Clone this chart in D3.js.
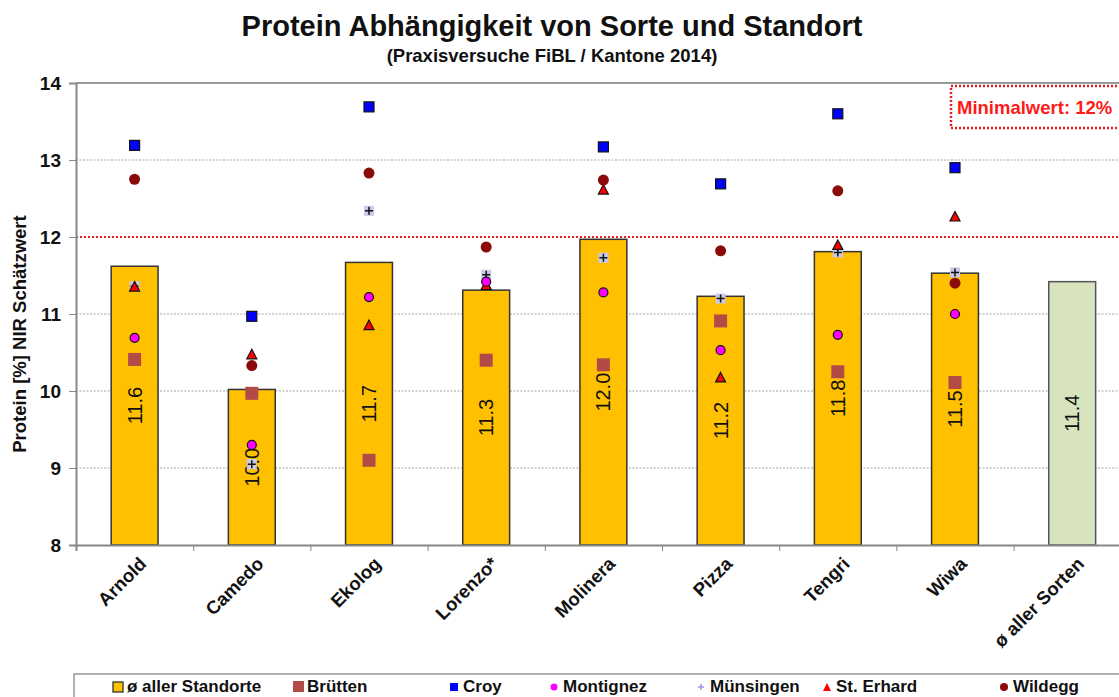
<!DOCTYPE html>
<html>
<head>
<meta charset="utf-8">
<script src="https://cdn.jsdelivr.net/npm/d3@7"></script>
<style>
body { margin: 0; background: #fff; }
text { font-family: "Liberation Sans", Arial, sans-serif; }
</style>
</head>
<body>
<script>
// data
var sorten = ["Arnold", "Camedo", "Ekolog", "Lorenzo*", "Molinera", "Pizza", "Tengri", "Wiwa", "ø aller Sorten"];
var mittel = [11.62, 10.02, 11.67, 11.31, 11.97, 11.23, 11.81, 11.53, 11.42];
var labels = ["11.6", "10.0", "11.7", "11.3", "12.0", "11.2", "11.8", "11.5", "11.4"];
var bruetten  = [10.41, 9.97, 9.10, 10.40, 10.34, 10.91, 10.25, 10.11];
var croy      = [13.19, 10.97, 13.69, null, 13.17, 12.69, 13.60, 12.90];
var montignez = [10.69, 9.30, 11.22, 11.42, 11.28, 10.53, 10.73, 11.00];
var muensingen = [11.36, 9.05, 12.34, 11.51, 11.73, 11.20, 11.80, 11.54];
var erhard    = [11.35, 10.47, 10.85, 11.37, 12.61, 10.17, 11.89, 12.26];
var wildegg   = [12.75, 10.33, 12.83, 11.87, 12.74, 11.82, 12.60, 11.40];
var yTicks = [8, 9, 10, 11, 12, 13, 14];
var minimalwert = 12;

var w = 1119, h = 697;
var x0 = 76, bandW = 117.2;

var svg = d3.select("body")
		.append("svg")
		.attr("width", w)
		.attr("height", h);

var x = d3.scaleBand()
		.domain(sorten)
		.range([x0, x0 + bandW * sorten.length])
		.paddingInner(0.6)
		.paddingOuter(0.3);
var xc = function(i) { return x(sorten[i]) + x.bandwidth() / 2; };

var y = d3.scaleLinear()
		.domain([8, 14])
		.range([545, 83]);

// titles
svg.append("text")
	.attr("x", 552).attr("y", 36)
	.attr("text-anchor", "middle")
	.attr("font-size", 29).attr("font-weight", "bold")
	.attr("fill", "#111")
	.text("Protein Abhängigkeit von Sorte und Standort");
svg.append("text")
	.attr("x", 552).attr("y", 62)
	.attr("text-anchor", "middle")
	.attr("font-size", 18.5).attr("font-weight", "bold")
	.attr("fill", "#111")
	.text("(Praxisversuche FiBL / Kantone 2014)");

// grid
svg.append("g")
	.selectAll("line")
	.data(yTicks.filter(function(d) { return d > 8 && d < 14 && d != minimalwert; }))
	.enter().append("line")
	.attr("x1", x0).attr("x2", w)
	.attr("y1", function(d) { return y(d); })
	.attr("y2", function(d) { return y(d); })
	.attr("stroke", "#a6a6a6")
	.attr("stroke-width", 1.2)
	.attr("stroke-dasharray", "2,1.5");

// top border
svg.append("line")
	.attr("x1", x0).attr("x2", w)
	.attr("y1", y(14)).attr("y2", y(14))
	.attr("stroke", "#999").attr("stroke-width", 2);

// bars
svg.append("g")
	.selectAll("rect")
	.data(mittel)
	.enter().append("rect")
	.attr("x", function(d, i) { return x(sorten[i]); })
	.attr("y", function(d) { return y(d); })
	.attr("width", x.bandwidth())
	.attr("height", function(d) { return y(8) - y(d); })
	.attr("fill", function(d, i) { return i == sorten.length - 1 ? "#d7e4bd" : "#ffc000"; })
	.attr("stroke", function(d, i) { return i == sorten.length - 1 ? "#555" : "#333"; })
	.attr("stroke-width", 1.5);

// value labels
svg.append("g")
	.selectAll("text")
	.data(mittel)
	.enter().append("text")
	.attr("transform", function(d, i) {
		return "translate(" + (xc(i) + 7) + "," + ((y(d) + y(8)) / 2) + ") rotate(-90)";
	})
	.attr("text-anchor", "middle")
	.attr("font-size", 20)
	.attr("fill", "#111")
	.text(function(d, i) { return labels[i]; });

// minimal line
svg.append("line")
	.attr("x1", x0).attr("x2", w)
	.attr("y1", y(minimalwert)).attr("y2", y(minimalwert))
	.attr("stroke", "#e32020")
	.attr("stroke-width", 2)
	.attr("stroke-dasharray", "2,2");

// axes
var yAxis = d3.axisLeft(y).tickValues(yTicks).tickSize(7).tickFormat(d3.format("d"));
var gy = svg.append("g").attr("transform", "translate(" + x0 + ",0)").call(yAxis);
gy.select(".domain").attr("stroke", "#888").attr("stroke-width", 2);
gy.selectAll(".tick line").attr("stroke", "#888");
gy.selectAll(".tick text")
	.attr("font-size", 19).attr("font-weight", "bold")
	.attr("font-family", "Liberation Sans, Arial, sans-serif")
	.attr("fill", "#111").attr("x", -15);

var xAxis = d3.axisBottom(d3.scaleLinear().domain([0, sorten.length]).range([x0, x0 + bandW * sorten.length]))
		.tickValues(d3.range(0, sorten.length + 1))
		.tickSize(6).tickFormat("");
var gx = svg.append("g").attr("transform", "translate(0," + y(8) + ")").call(xAxis);
gx.select(".domain").attr("stroke", "#888").attr("stroke-width", 2);
gx.selectAll(".tick line").attr("stroke", "#888");

svg.append("g")
	.selectAll("text")
	.data(sorten)
	.enter().append("text")
	.attr("transform", function(d, i) { return "translate(" + (xc(i) + 13) + ",565) rotate(-45)"; })
	.attr("text-anchor", "end")
	.attr("font-size", 18.5).attr("font-weight", "bold")
	.attr("fill", "#111")
	.text(function(d) { return d; });

svg.append("text")
	.attr("transform", "translate(26,334) rotate(-90)")
	.attr("text-anchor", "middle")
	.attr("font-size", 18.5).attr("font-weight", "bold")
	.attr("fill", "#111")
	.text("Protein [%]  NIR Schätzwert");

// markers
function pts(arr) {
	return arr.map(function(v, i) { return {v: v, i: i}; }).filter(function(d) { return d.v != null; });
}
var gm = svg.append("g");

gm.selectAll(".bru").data(pts(bruetten)).enter().append("rect")
	.attr("x", function(d) { return xc(d.i) - 6.5; })
	.attr("y", function(d) { return y(d.v) - 6.5; })
	.attr("width", 13).attr("height", 13)
	.attr("fill", "#b24a48");

gm.selectAll(".mue").data(pts(muensingen)).enter().append("g")
	.attr("transform", function(d) { return "translate(" + xc(d.i) + "," + y(d.v) + ")"; })
	.each(function() {
		var g = d3.select(this);
		g.append("rect").attr("x", -5).attr("y", -5).attr("width", 10).attr("height", 10)
			.attr("fill", "#c9c9ea");
		g.append("path").attr("d", "M-4,0H4M0,-4V4").attr("stroke", "#111").attr("stroke-width", 1.5);
	});

gm.selectAll(".erh").data(pts(erhard)).enter().append("path")
	.attr("transform", function(d) { return "translate(" + xc(d.i) + "," + y(d.v) + ")"; })
	.attr("d", "M0,-5.5L5,4L-5,4Z")
	.attr("fill", "#ff0000").attr("stroke", "#111").attr("stroke-width", 1.2);

gm.selectAll(".mon").data(pts(montignez)).enter().append("circle")
	.attr("cx", function(d) { return xc(d.i); })
	.attr("cy", function(d) { return y(d.v); })
	.attr("r", 4.5)
	.attr("fill", "#ff00ff").attr("stroke", "#111").attr("stroke-width", 1.2);

gm.selectAll(".wil").data(pts(wildegg)).enter().append("circle")
	.attr("cx", function(d) { return xc(d.i); })
	.attr("cy", function(d) { return y(d.v); })
	.attr("r", 5.5)
	.attr("fill", "#8b0a0a");

gm.selectAll(".cro").data(pts(croy)).enter().append("rect")
	.attr("x", function(d) { return xc(d.i) - 5; })
	.attr("y", function(d) { return y(d.v) - 5; })
	.attr("width", 10).attr("height", 10)
	.attr("fill", "#0000ff").attr("stroke", "#111").attr("stroke-width", 1.2);

// Minimalwert box
svg.append("rect")
	.attr("x", 951).attr("y", 86)
	.attr("width", 200).attr("height", 42)
	.attr("fill", "#fff")
	.attr("stroke", "#e32020").attr("stroke-width", 2.5)
	.attr("stroke-dasharray", "2,2");
svg.append("text")
	.attr("x", 957).attr("y", 114)
	.attr("font-size", 18.5).attr("font-weight", "bold")
	.attr("fill", "#ff1a1a")
	.text("Minimalwert:  " + minimalwert + "%");

// legend
svg.append("rect")
	.attr("x", 74).attr("y", 674)
	.attr("width", 1100).attr("height", 60)
	.attr("fill", "#fff").attr("stroke", "#999").attr("stroke-width", 1.5);

var legendNames = ["ø aller Standorte", "Brütten", "Croy", "Montignez", "Münsingen", "St. Erhard", "Wildegg"];
var legendX = [113, 293, 449, 549, 696, 822, 999];
var lg = svg.append("g");
legendNames.forEach(function(name, i) {
	var g = lg.append("g").attr("transform", "translate(" + legendX[i] + ",687)");
	if (i == 0) {
		g.append("rect").attr("x", 0).attr("y", -5).attr("width", 10).attr("height", 10)
			.attr("fill", "#ffc000").attr("stroke", "#333").attr("stroke-width", 1.3);
	} else if (i == 1) {
		g.append("rect").attr("x", 0).attr("y", -6).attr("width", 11).attr("height", 11).attr("fill", "#b24a48");
	} else if (i == 2) {
		g.append("rect").attr("x", 1).attr("y", -4).attr("width", 8).attr("height", 8).attr("fill", "#0000ff");
	} else if (i == 3) {
		g.append("circle").attr("cx", 5).attr("cy", 0).attr("r", 3.5).attr("fill", "#ff00ff");
	} else if (i == 4) {
		g.append("path").attr("d", "M2,0H8M5,-3V3").attr("stroke", "#9999dd").attr("stroke-width", 1.5);
	} else if (i == 5) {
		g.append("path").attr("d", "M5,-4L9,4L1,4Z").attr("fill", "#ff0000");
	} else {
		g.append("circle").attr("cx", 5).attr("cy", 0).attr("r", 4).attr("fill", "#8b0a0a");
	}
	g.append("text").attr("x", 14).attr("y", 5)
		.attr("font-size", 17).attr("font-weight", "bold").attr("fill", "#111")
		.text(name);
});
</script>
</body>
</html>
